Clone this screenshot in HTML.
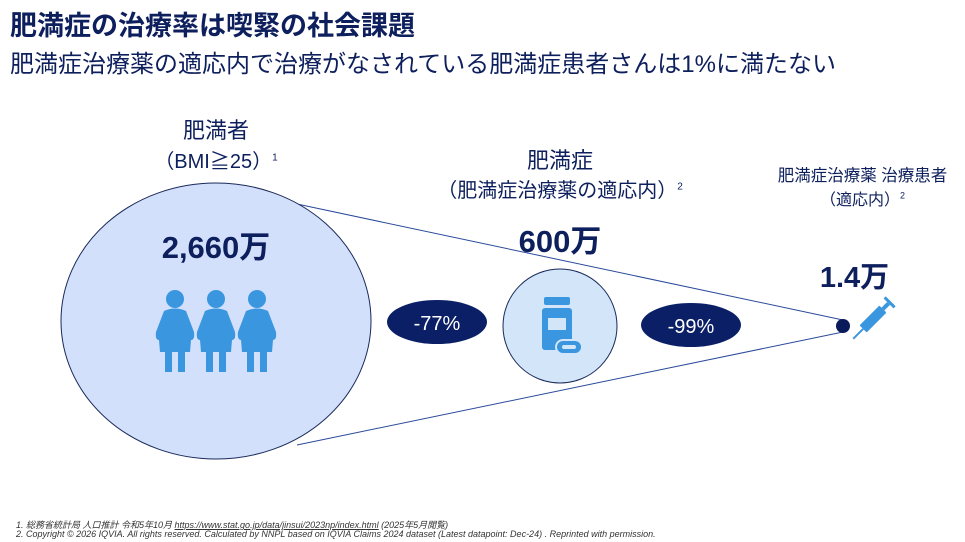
<!DOCTYPE html>
<html><head><meta charset="utf-8"><style>
body{margin:0;width:965px;height:542px;background:#fff;overflow:hidden;position:relative;font-family:"Liberation Sans","Noto Sans CJK JP",sans-serif;color:#0d1f5c}
.a{position:absolute;white-space:nowrap}
</style></head><body>
<div class="a" style="left:10px;top:4px;font-size:27px;font-weight:bold;color:#0d1f5c">肥満症の治療率は喫緊の社会課題</div>
<div class="a" style="left:10px;top:44px;font-size:24px;color:#0d1f5c">肥満症治療薬の適応内で治療がなされている肥満症患者さんは1%に満たない</div>
<svg class="a" style="left:0;top:0" width="965" height="542">
<line x1="297" y1="204" x2="843" y2="320" stroke="#2a4a9a" stroke-width="1"/>
<line x1="297" y1="445" x2="843" y2="332" stroke="#2a4a9a" stroke-width="1"/>
<ellipse cx="216" cy="321" rx="155" ry="138" fill="#d3e0fb" stroke="#1a2a5a" stroke-width="1"/>
<circle cx="560" cy="326" r="57" fill="#d3e5f8" stroke="#1a2a5a" stroke-width="1"/>
<circle cx="843" cy="326" r="7" fill="#0a1a5a"/>
<ellipse cx="437" cy="322" rx="50" ry="22" fill="#0a1f66"/>
<ellipse cx="691" cy="325" rx="50" ry="22" fill="#0a1f66"/>
<text x="437" y="330" font-size="20" fill="#fff" text-anchor="middle" font-family="Liberation Sans,sans-serif">-77%</text>
<text x="691" y="333" font-size="20" fill="#fff" text-anchor="middle" font-family="Liberation Sans,sans-serif">-99%</text>
<g fill="#3a96de">
<g id="p"><circle cx="175" cy="299" r="9"/><path d="M164 311 Q175 306 186 311 L194 332 Q195 340 191 340 L190 352 L185 352 L185 372 L178 372 L178 352 L172 352 L172 372 L165 372 L165 352 L160 352 L159 340 Q155 340 156 332 Z"/></g>
<use href="#p" x="41"/><use href="#p" x="82"/>
<rect x="544" y="297" width="26" height="8" rx="2"/>
<rect x="542" y="308" width="30" height="42" rx="3"/>
<rect x="548" y="318" width="18" height="12" fill="#d3e5f8"/>
<rect x="556" y="340" width="26" height="14" rx="7" stroke="#d3e5f8" stroke-width="2"/>
<rect x="562" y="345" width="14" height="4" rx="2" fill="#d3e5f8"/>
<g transform="translate(873,319) rotate(-45)"><rect x="-14" y="-5" width="28" height="10" rx="1"/><rect x="14" y="-2" width="8" height="4"/><rect x="22" y="-7" width="3" height="14"/><line x1="-14" y1="0" x2="-28" y2="0" stroke="#3a96de" stroke-width="2"/></g>
</g>
</svg>
<div class="a" style="left:0;width:432px;top:113px;text-align:center;font-size:22px">肥満者</div>
<div class="a" style="left:0;width:432px;top:145px;text-align:center;font-size:20px">（BMI≧25）<sup style="font-size:10px">1</sup></div>
<div class="a" style="left:0;width:432px;top:222px;text-align:center;font-size:31px;font-weight:bold">2,660万</div>
<div class="a" style="left:380px;width:360px;top:143px;text-align:center;font-size:22px">肥満症</div>
<div class="a" style="left:380px;width:360px;top:174px;text-align:center;font-size:20px">（肥満症治療薬の適応内）<sup style="font-size:10px">2</sup></div>
<div class="a" style="left:380px;width:360px;top:216px;text-align:center;font-size:31px;font-weight:bold">600万</div>
<div class="a" style="left:760px;width:205px;top:162px;text-align:center;font-size:16.5px">肥満症治療薬 治療患者</div>
<div class="a" style="left:760px;width:205px;top:186px;text-align:center;font-size:16px">（適応内）<sup style="font-size:9px">2</sup></div>
<div class="a" style="left:752px;width:205px;top:254px;text-align:center;font-size:29px;font-weight:bold">1.4万</div>
<div class="a" style="left:16px;top:518px;font-size:9px;font-style:italic;color:#333">1. 総務省統計局 人口推計 令和5年10月 <u>https://www.stat.go.jp/data/jinsui/2023np/index.html</u> (2025年5月閲覧)</div>
<div class="a" style="left:16px;top:529px;font-size:9px;font-style:italic;color:#333">2. Copyright © 2026 IQVIA. All rights reserved. Calculated by NNPL based on IQVIA Claims 2024 dataset (Latest datapoint: Dec-24) . Reprinted with permission.</div>
</body></html>
